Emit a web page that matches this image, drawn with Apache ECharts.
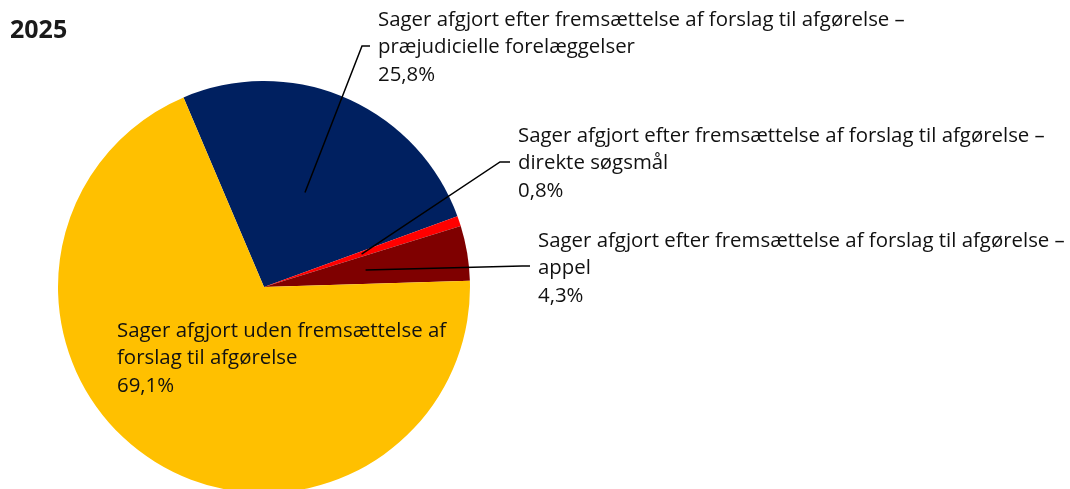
<!DOCTYPE html>
<html>
<head>
<meta charset="utf-8">
<script src="https://cdn.jsdelivr.net/npm/echarts@6/dist/echarts.min.js"></script>
<style>
  html, body { margin: 0; padding: 0; background: #fff; }
  #chart { width: 1070px; height: 489px; }
</style>
</head>
<body>
<div id="chart"></div>
<script>
  // 数据
  const categories = [
    'Sager afgjort efter fremsættelse af forslag til afgørelse –\npræjudicielle forelæggelser',
    'Sager afgjort efter fremsættelse af forslag til afgørelse –\ndirekte søgsmål',
    'Sager afgjort efter fremsættelse af forslag til afgørelse –\nappel',
    'Sager afgjort uden fremsættelse af\nforslag til afgørelse'
  ];
  const values = [25.8, 0.8, 4.3, 69.1];
  const colors = ['#002060', '#FF0000', '#7F0000', '#FFC000'];

  // 标签位置与引导线拐点（起点取扇区中线上半径 50% 处）
  const labelPos = [
    { x: 378, y: 6, elbow: [[362, 46], [370, 46]] },
    { x: 518, y: 122, elbow: [[500, 162], [510, 162]] },
    { x: 538, y: 227, elbow: [[522, 266], [530, 266]] },
    { x: 117, y: 317, elbow: null }
  ];

  const chart = echarts.init(document.getElementById('chart'));
  const option = {
    animation: false,
    title: {
      text: '2025',
      left: 5,
      top: 13,
      textStyle: { fontFamily: 'Open Sans', fontSize: 25, fontWeight: 'bold', color: '#1a1a1a' }
    },
    series: [{
      type: 'pie',
      center: [264, 287],
      radius: 206,
      startAngle: 113,
      clockwise: true,
      label: {
        show: true,
        position: 'outside',
        overflow: 'none',
        fontFamily: 'Open Sans',
        fontSize: 20.4,
        lineHeight: 27.5,
        color: '#111',
        formatter: p => p.name + '\n' + p.value.toFixed(1).replace('.', ',') + '%'
      },
      labelLine: { show: false },
      labelLayout: function (params) {
        const p = labelPos[params.dataIndex];
        return { x: p.x, y: p.y, align: 'left', verticalAlign: 'top' };
      },
      data: values.map((v, i) => ({
        name: categories[i],
        value: v,
        itemStyle: { color: colors[i] }
      }))
    }]
  };
  chart.setOption(option);

  // 引导线：起点取自饼图布局
  const pieData = chart.getModel().getSeriesByIndex(0).getData();
  const lines = [];
  labelPos.forEach((p, i) => {
    if (!p.elbow) return;
    const l = pieData.getItemLayout(i);
    const mid = (l.startAngle + l.endAngle) / 2;
    const start = [l.cx + Math.cos(mid) * l.r * 0.5, l.cy + Math.sin(mid) * l.r * 0.5];
    lines.push({
      type: 'polyline',
      silent: true,
      z: 10,
      shape: { points: [start].concat(p.elbow) },
      style: { stroke: '#000', lineWidth: 1.5, fill: null }
    });
  });
  chart.setOption({ graphic: lines });
</script>
</body>
</html>
